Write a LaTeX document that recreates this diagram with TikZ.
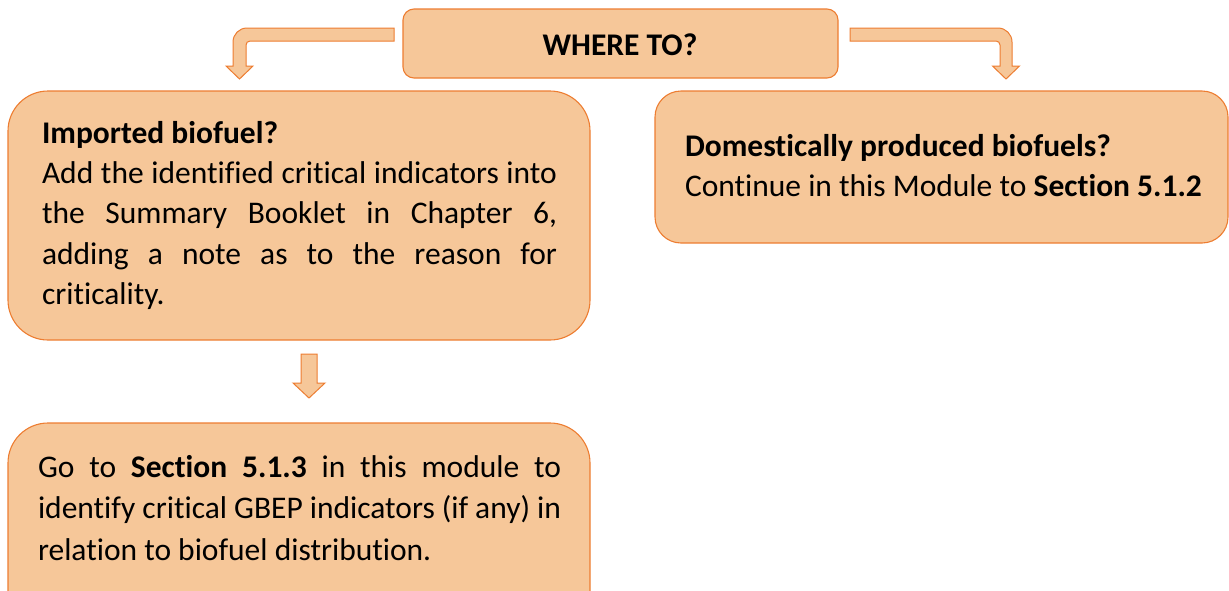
\documentclass[tikz,border=0pt]{standalone}
\usepackage{fontspec}
\setmainfont{Carlito}[Ligatures={NoCommon}]
\definecolor{boxfill}{RGB}{246,199,153}
\definecolor{boxline}{RGB}{237,125,49}
\tikzset{
  box/.style={draw=boxline, fill=boxfill, line width=1.1pt},
  blockarrow/.style={draw=boxline, fill=boxfill, line width=1pt, line join=miter},
  txt/.style={anchor=base west, inner sep=0pt, outer sep=0pt, font=\fontsize{31.5}{40}\selectfont},
  ctxt/.style={anchor=base, inner sep=0pt, outer sep=0pt, font=\fontsize{31.5}{40}\selectfont\bfseries},
}
\begin{document}
\begin{tikzpicture}[x=1pt,y=-1pt]
\useasboundingbox (0,0) rectangle (1229,590);
\clip (0,0) rectangle (1229,590);
% boxes
\draw[box, rounded corners=11] (403,9) rectangle (838,78);
\draw[box, rounded corners=40] (8,91) rectangle (590,340);
\draw[box, rounded corners=26] (655,91) rectangle (1228,243);
\draw[box, rounded corners=40] (8,423) rectangle (590,680);
% block arrows
\draw[blockarrow] (394,28) -- (247,28) arc (270:180:14) -- (233,66) -- (226,66)
  -- (239.5,79) -- (253,66) -- (246,66) -- (246,45) arc (180:270:4) -- (394,41) -- cycle;
\draw[blockarrow] (850,28) -- (998,28) arc (270:360:14) -- (1012,66) -- (1019.5,66)
  -- (1006,79) -- (992.5,66) -- (1000,66) -- (1000,45) arc (0:-90:4) -- (850,41) -- cycle;
\draw[blockarrow] (301,354) -- (317,354) -- (317,383) -- (325,383) -- (309,398)
  -- (293,383) -- (301,383) -- cycle;
% texts
\node[ctxt] (where) at (620,55) {WHERE TO?};
\node[txt] (imp1) at (42,143) {\textbf{Imported biofuel?}};
\node[txt] (imp2) at (42,183) {\makebox[515pt][s]{Add the identified critical indicators into}};
\node[txt] (imp3) at (42,223) {\makebox[515pt][s]{the Summary Booklet in Chapter 6,}};
\node[txt] (imp4) at (42,264) {\makebox[515pt][s]{adding a note as to the reason for}};
\node[txt] (imp5) at (42,304) {criticality.};
\node[txt] (dom1) at (685,156) {\textbf{Domestically produced biofuels?}};
\node[txt] (dom2) at (685,196) {Continue in this Module to \textbf{Section 5.1.2}};
\node[txt] (go1) at (38,477) {\makebox[523pt][s]{Go to \textbf{Section 5.1.3} in this module to}};
\node[txt] (go2) at (38,518) {\makebox[523pt][s]{identify critical GBEP indicators (if any) in}};
\node[txt] (go3) at (38,560) {relation to biofuel distribution.};
\end{tikzpicture}
\end{document}
